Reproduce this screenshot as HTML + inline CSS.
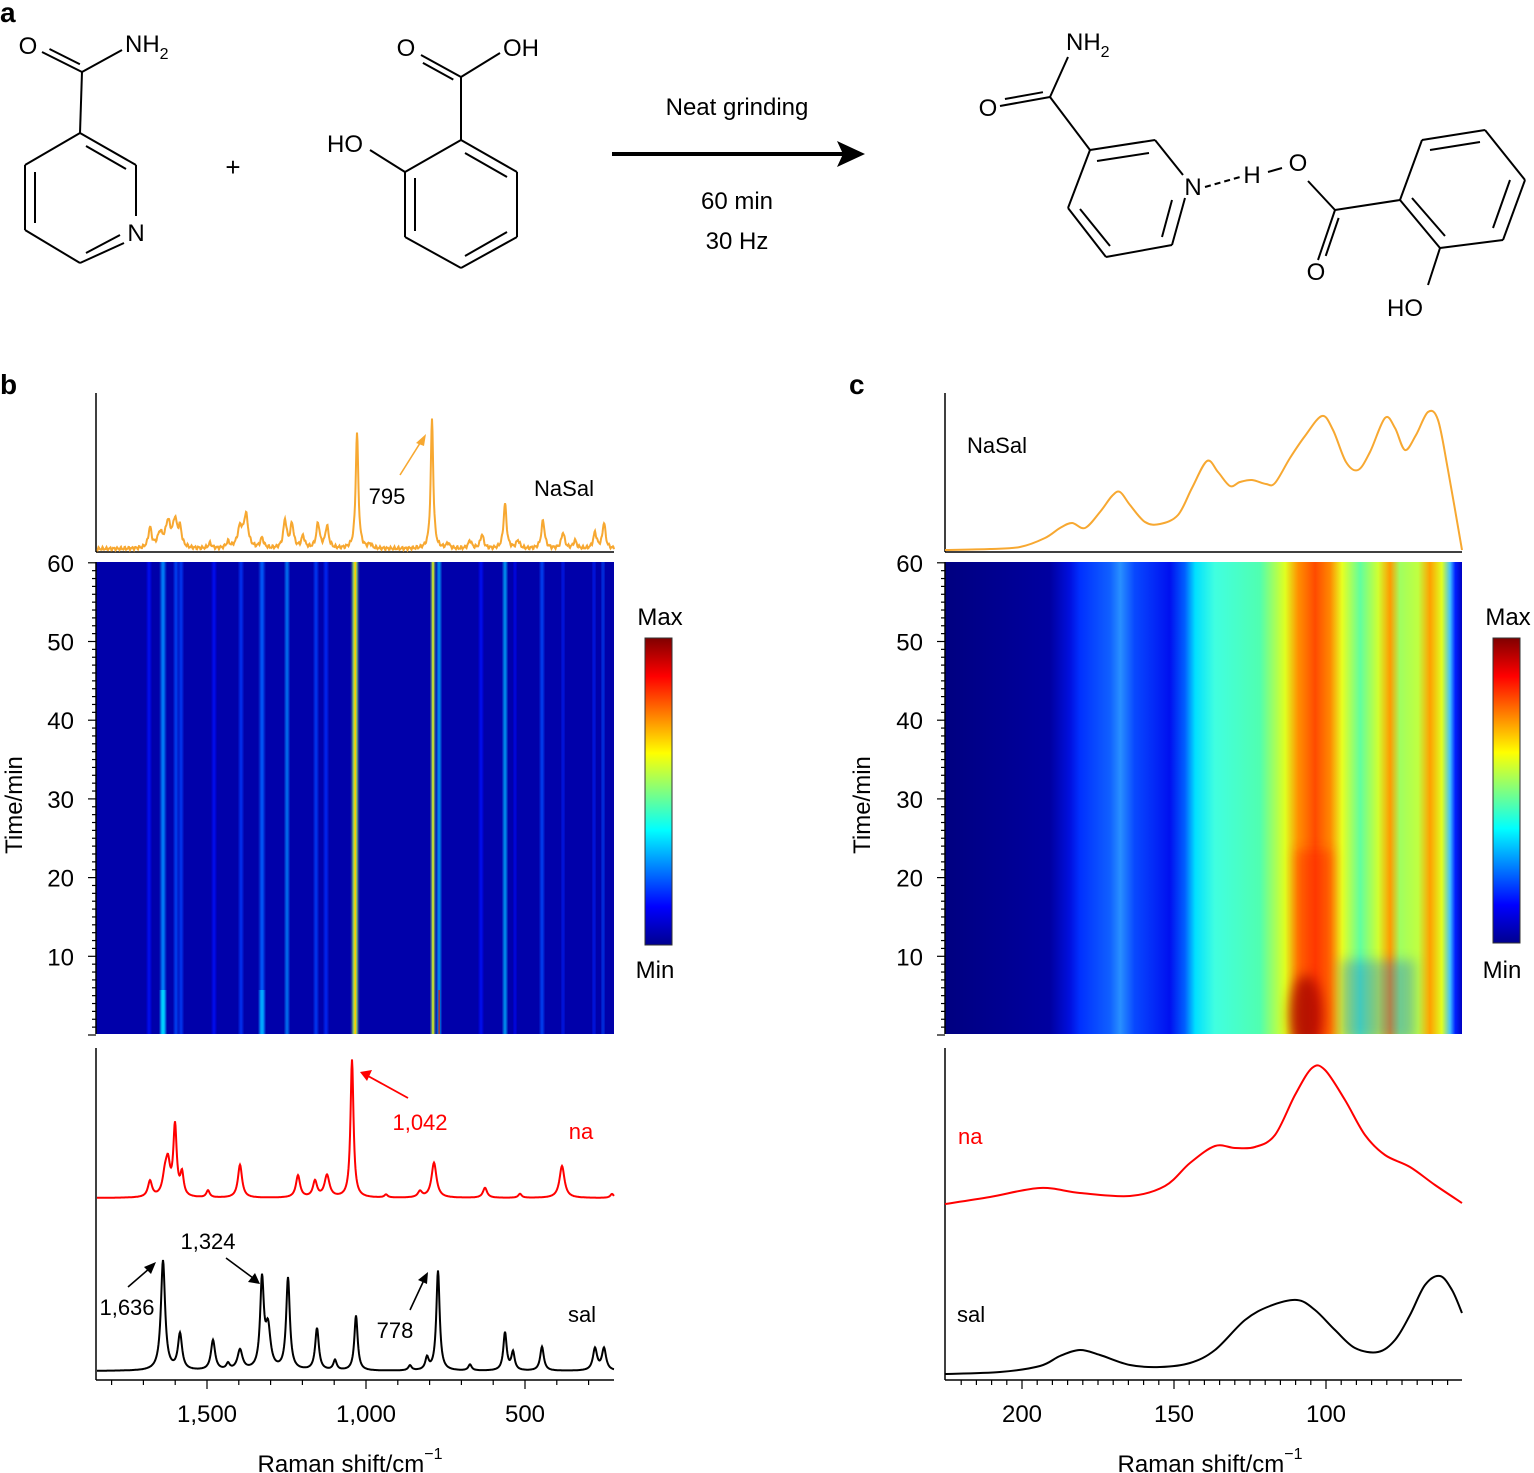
<!DOCTYPE html>
<html><head><meta charset="utf-8">
<style>
html,body{margin:0;padding:0;background:#fff;}
svg{display:block;font-family:"Liberation Sans",Arial,sans-serif;}
</style></head>
<body>
<svg id="s" width="1534" height="1473" viewBox="0 0 1534 1473" xmlns="http://www.w3.org/2000/svg">
<defs>
<linearGradient id="jetv" x1="0" y1="1" x2="0" y2="0">
<stop offset="0" stop-color="#00008f"/><stop offset="0.125" stop-color="#0000ff"/>
<stop offset="0.375" stop-color="#00ffff"/><stop offset="0.625" stop-color="#ffff00"/>
<stop offset="0.875" stop-color="#ff0000"/><stop offset="1" stop-color="#800000"/>
</linearGradient>
<linearGradient id="hc" x1="945" y1="0" x2="1462" y2="0" gradientUnits="userSpaceOnUse">
<stop offset="0" stop-color="#000080"/>
<stop offset="0.203" stop-color="#0000a0"/>
<stop offset="0.242" stop-color="#0010e0"/>
<stop offset="0.261" stop-color="#0030ff"/>
<stop offset="0.319" stop-color="#1060ff"/>
<stop offset="0.339" stop-color="#2890ff"/>
<stop offset="0.367" stop-color="#0848ff"/>
<stop offset="0.435" stop-color="#0010f0"/>
<stop offset="0.464" stop-color="#0060ff"/>
<stop offset="0.484" stop-color="#00e0ff"/>
<stop offset="0.522" stop-color="#40ffe0"/>
<stop offset="0.609" stop-color="#50ffb0"/>
<stop offset="0.658" stop-color="#e0ff20"/>
<stop offset="0.683" stop-color="#ff9000"/>
<stop offset="0.716" stop-color="#ff4a00"/>
<stop offset="0.745" stop-color="#ff8800"/>
<stop offset="0.768" stop-color="#e8ff20"/>
<stop offset="0.803" stop-color="#60ffa0"/>
<stop offset="0.838" stop-color="#d0ff30"/>
<stop offset="0.861" stop-color="#ff9a00"/>
<stop offset="0.88" stop-color="#a0ff60"/>
<stop offset="0.915" stop-color="#c0ff40"/>
<stop offset="0.938" stop-color="#ffa000"/>
<stop offset="0.961" stop-color="#e0ff20"/>
<stop offset="0.977" stop-color="#40c0ff"/>
<stop offset="0.987" stop-color="#0020ff"/>
<stop offset="1" stop-color="#0000c0"/>
</linearGradient>
<clipPath id="cc"><rect x="945" y="562" width="517" height="472"/></clipPath>
<filter id="bl" x="-50%" y="0" width="200%" height="100%"><feGaussianBlur stdDeviation="1.2 0"/></filter>
<filter id="bl2" x="-50%" y="-50%" width="200%" height="200%"><feGaussianBlur stdDeviation="6"/></filter>
</defs>
<g id="root" fill="none" stroke="none"></g>
</svg>
<script>
var R=document.getElementById('root');var NS='http://www.w3.org/2000/svg';
function el(t,a,txt,par){var e=document.createElementNS(NS,t);for(var k in a)e.setAttribute(k,a[k]);if(txt!=null)e.textContent=txt;(par||R).appendChild(e);return e;}
function line(x1,y1,x2,y2,c,w,d){var a={x1:x1,y1:y1,x2:x2,y2:y2,stroke:c||'#000','stroke-width':w||2};if(d)a['stroke-dasharray']=d;return el('line',a);}
function text(x,y,s,sz,c,anc,extra){var a={x:x,y:y,'font-size':sz||24,fill:c||'#000','text-anchor':anc||'middle'};for(var k in extra)a[k]=extra[k];return el('text',a,s);}
function sub(x,y,main,s,sz,anc,dy,ssz){var t=text(x,y,main,sz,'#000',anc||'start');el('tspan',{dy:dy,'font-size':ssz||16},s,t);return t;}
function dbl(x1,y1,x2,y2,off,side){line(x1,y1,x2,y2);var dx=x2-x1,dy=y2-y1,L=Math.hypot(dx,dy),nx=-dy/L*off*side,ny=dx/L*off*side;var s=0.12;line(x1+dx*s+nx,y1+dy*s+ny,x2-dx*s+nx,y2-dy*s+ny);}
text(0,22,'a',28,'#000','start',{'font-weight':'bold'});
text(0,394,'b',28,'#000','start',{'font-weight':'bold'});
text(849,394,'c',28,'#000','start',{'font-weight':'bold'});
line(80,133,136,165);line(136,165,136,216);line(124,243,80,263);line(80,263,25,230);line(25,230,25,165);line(25,165,80,133);
line(86,146,126,169);line(35,172,35,223);line(120,235,86,253);
text(136,241,'N',24);
line(82,72,80,133);dbl(82,72,42,52,6,1);line(82,72,122,50);
text(28,54,'O',24);sub(125,52,'NH','2',24,'start',7);
text(233,176,'+',26);
line(461,140,517,172);line(517,172,517,237);line(517,237,461,268);line(461,268,405,237);line(405,237,405,172);line(405,172,461,140);
line(465,153,507,177);line(507,232,465,256);line(415,178,415,231);
line(461,77,461,140);dbl(461,77,421,55,6,-1);line(461,77,500,53);
text(406,56,'O',24);text(503,56,'OH',24,'#000','start');
line(370,150,405,172);text(345,152,'HO',24);
line(612,154,845,154,'#000',4);el('polygon',{points:'865,154 837,141 843,154 837,167',fill:'#000'});
text(737,115,'Neat grinding',24);text(737,209,'60 min',24);text(737,249,'30 Hz',24);
line(1090,150,1155,140);line(1155,140,1183,175);line(1185,198,1172,245);line(1172,245,1106,257);line(1106,257,1068,208);line(1068,208,1090,150);
line(1097,161,1149,153);line(1172,200,1162,237);line(1080,209,1110,246);
line(1050,97,1090,150);dbl(1050,97,1000,106,6,1);line(1050,97,1068,57);
text(988,116,'O',24);sub(1066,50,'NH','2',24,'start',7);
text(1193,195,'N',24);line(1205,187,1240,177,'#000',2,'6,4');text(1252,183,'H',24);line(1268,172,1282,168);
text(1298,171,'O',24);line(1308,181,1335,210);dbl(1335,210,1318,260,6,-1);text(1316,280,'O',24);
line(1335,210,1400,200);
line(1400,200,1422,140);line(1422,140,1485,130);line(1485,130,1525,180);line(1525,180,1503,240);line(1503,240,1440,248);line(1440,248,1400,200);
line(1430,150,1480,142);line(1510,180,1493,228);line(1445,236,1412,198);
line(1440,248,1428,285);text(1405,316,'HO',24);
function jet(v){v=Math.max(0,Math.min(1,v));function c(x){return Math.round(255*Math.max(0,Math.min(1,x)));}
var r=c(Math.min(4*v-1.5,-4*v+4.5)),g=c(Math.min(4*v-0.5,-4*v+3.5)),b=c(Math.min(4*v+0.5,-4*v+2.5));return 'rgb('+r+','+g+','+b+')';}
el('rect',{x:96,y:562,width:518,height:472,fill:'#0000aa'});
var cols=[[149,3,0.14],[163,4,0.26],[176,3,0.2],[181,3,0.19],[214,3,0.14],[241,3,0.18],[262,4,0.22],[287,3,0.26],[316,3,0.19],[326,3,0.17],[355,5,0.55],[433,3,0.55],[439,3,0.3],[481,3,0.14],[505,3,0.3],[515,2,0.14],[542,3,0.2],[563,2,0.16],[594,2,0.16],[603,2,0.2]];
cols.forEach(function(c){el('rect',{x:c[0]-c[1]/2,y:562,width:c[1],height:472,fill:jet(c[2]),filter:'url(#bl)'});});
el('rect',{x:354.5,y:562,width:1.5,height:472,fill:jet(0.68)});
el('rect',{x:432.5,y:562,width:1,height:472,fill:jet(0.62)});
el('rect',{x:438.5,y:990,width:1.2,height:44,fill:'#e02000'});
el('rect',{x:161,y:990,width:4,height:44,fill:jet(0.34),filter:'url(#bl)'});
el('rect',{x:260,y:990,width:4,height:44,fill:jet(0.3),filter:'url(#bl)'});
var g=el('g',{'clip-path':'url(#cc)'});
el('rect',{x:945,y:562,width:517,height:472,fill:'url(#hc)'},null,g);
el('rect',{x:1296,y:850,width:36,height:190,fill:'#ff2000',opacity:0.45,filter:'url(#bl2)'},null,g);
el('ellipse',{cx:1306,cy:1015,rx:16,ry:40,fill:'#a00000',opacity:0.75,filter:'url(#bl2)'},null,g);
el('rect',{x:1340,y:960,width:75,height:80,fill:'#0050ff',opacity:0.3,filter:'url(#bl2)'},null,g);
el('rect',{x:645,y:638,width:27,height:307,fill:'url(#jetv)',stroke:'#333','stroke-width':1});
el('rect',{x:1493,y:638,width:27,height:305,fill:'url(#jetv)',stroke:'#333','stroke-width':1});
text(660,625,'Max',24);text(655,978,'Min',24);text(1508,625,'Max',24);text(1502,978,'Min',24);
function yaxis(x){line(x,562,x,1034,'#000',1.5);var lab=[60,50,40,30,20,10];
for(var t=0;t<=60;t++){var y=1035-t*7.87;var big=t%10==0;line(x-(big?8:4),y,x,y,'#000',1.2);}
lab.forEach(function(t){text(x-22,1035-t*7.87+9,''+t,24,'#000','end');});}
yaxis(96);yaxis(945);
[14,862].forEach(function(px){text(px,797,'Time/min',24,'#000','middle',{transform:'rotate(-90 '+(px+8)+' 797)'});});
line(96,393,96,552,'#000',1.5);line(96,552,614,552,'#000',1.5);
line(945,393,945,552,'#000',1.5);line(945,552,1462,552,'#000',1.5);
line(96,1048,96,1380,'#000',1.5);line(96,1380,614,1380,'#000',1.5);
line(945,1048,945,1380,'#000',1.5);line(945,1380,1462,1380,'#000',1.5);
function bx(w){return 207+(1500-w)*0.318;}
for(var w=1800;w>=250;w-=100){var X=bx(w);if(X<96||X>614)continue;var big=w%500==0;line(X,1380,X,1380+(big?9:5),'#000',1.2);}
text(bx(1500),1422,'1,500',24);text(bx(1000),1422,'1,000',24);text(bx(500),1422,'500',24);
function cx(w){return 1022+(200-w)*3.04;}
for(var w=220;w>=55;w-=5){var X=cx(w);if(X<945||X>1462)continue;var big=w%50==0;line(X,1380,X,1380+(big?9:5),'#000',1.2);}
text(cx(200),1422,'200',24);text(cx(150),1422,'150',24);text(cx(100),1422,'100',24);
sub(350,1472,'Raman shift/cm','\u22121',24,'middle',-13);
sub(1210,1472,'Raman shift/cm','\u22121',24,'middle',-13);
function spec(base,peaks,x0,x1,c,w,noise){var d='';for(var x=x0;x<=x1;x+=0.5){var y=base;peaks.forEach(function(p){var g=p[2]||2.5;y-=p[1]/(1+Math.pow((x-p[0])/g,2));});
if(noise)y+=noise*(Math.sin(x*1.7)+Math.sin(x*3.1+1)*0.6);d+=(x==x0?'M':'L')+x.toFixed(1)+','+y.toFixed(1);}
el('path',{d:d,stroke:c,'stroke-width':w||2,fill:'none'});}
var OR='#f7a831';
spec(549,[[150,20,2],[160,14,3],[168,25,3],[175,26,2.5],[180,18,2],[210,5,2],[228,6,2],[240,20,3],[246,32,2.5],[262,10,2],[285,28,2],[292,24,2],[303,12,2],[318,25,2],[327,22,2],[357,116,1.6],[370,4,2],[432,130,1.5],[448,5,2],[470,8,2],[482,14,2],[505,45,1.8],[518,8,2],[543,28,2],[563,16,2],[575,8,2],[595,16,2],[604,26,1.8]],97,614,OR,2,1.2);
spec(1198,[[150,16,2.5],[165,20,3],[168,28,2.5],[175,70,2],[182,22,2],[208,7,2],[240,33,2.5],[298,22,2.5],[315,16,2.5],[327,22,3],[352,138,1.8],[386,3,2],[420,6,2.5],[434,35,3],[485,10,2.5],[520,4,2],[562,32,3],[612,4,2]],97,614,'#ff0000',2);
spec(1371,[[163,110,2.5],[180,36,2.5],[213,30,2.5],[228,6,2],[240,20,3],[262,88,2.2],[268,40,3],[288,92,2.2],[317,42,2.2],[335,10,2],[356,55,2],[410,5,2],[427,12,2],[438,100,2],[470,6,2],[505,38,2],[513,18,2],[542,24,2.2],[595,22,2.5],[604,22,2.5]],97,614,'#000',2);
text(387,504,'795',22);line(400,475,422,440,OR,1.6);el('polygon',{points:'426,434 416,443 424,446',fill:OR});
text(564,496,'NaSal',22);
text(581,1139,'na',22,'#ff0000');text(420,1130,'1,042',22,'#ff0000');
line(408,1098,368,1076,'#ff0000',1.8);el('polygon',{points:'360,1072 372,1070 367,1081',fill:'#ff0000'});
text(582,1322,'sal',22);
text(127,1315,'1,636',22);line(128,1287,150,1268,'#000',1.6);el('polygon',{points:'156,1262 144,1267 151,1274',fill:'#000'});
text(208,1249,'1,324',22);line(226,1258,253,1278,'#000',1.6);el('polygon',{points:'260,1284 248,1282 255,1273',fill:'#000'});
text(395,1338,'778',22);line(410,1310,424,1280,'#000',1.6);el('polygon',{points:'428,1272 418,1280 427,1284',fill:'#000'});
function smooth(pts,c,w){var d='M'+pts[0][0]+','+pts[0][1];for(var i=0;i<pts.length-1;i++){var p0=pts[i-1]||pts[i],p1=pts[i],p2=pts[i+1],p3=pts[i+2]||p2;
var c1=[p1[0]+(p2[0]-p0[0])/6,p1[1]+(p2[1]-p0[1])/6],c2=[p2[0]-(p3[0]-p1[0])/6,p2[1]-(p3[1]-p1[1])/6];
d+='C'+c1.join(',')+' '+c2.join(',')+' '+p2.join(',');}el('path',{d:d,stroke:c,'stroke-width':w||2,fill:'none'});}
smooth([[945,550],[990,549],[1020,547],[1045,538],[1060,528],[1072,523],[1085,528],[1100,512],[1112,496],[1120,492],[1130,505],[1145,522],[1160,524],[1178,515],[1192,488],[1207,461],[1218,472],[1230,486],[1240,482],[1252,480],[1266,484],[1275,483],[1290,458],[1305,436],[1322,416],[1333,430],[1346,462],[1358,470],[1370,452],[1385,418],[1395,428],[1405,450],[1416,435],[1428,412],[1438,420],[1448,470],[1462,550]],OR,2);
smooth([[945,1204],[990,1197],[1040,1188],[1080,1193],[1130,1196],[1165,1186],[1190,1163],[1215,1146],[1235,1148],[1255,1147],[1275,1135],[1295,1095],[1312,1068],[1325,1070],[1345,1100],[1365,1135],[1385,1155],[1410,1167],[1435,1185],[1462,1203]],'#ff0000',2);
smooth([[945,1374],[1000,1372],[1040,1366],[1060,1356],[1080,1350],[1100,1355],[1130,1365],[1160,1367],[1190,1363],[1215,1350],[1245,1320],[1270,1306],[1297,1300],[1315,1310],[1335,1330],[1355,1348],[1378,1352],[1395,1340],[1410,1315],[1425,1285],[1440,1276],[1452,1290],[1462,1313]],'#000',2);
text(997,453,'NaSal',22);text(958,1144,'na',22,'#ff0000','start');text(957,1322,'sal',22,'#000','start');
</script>
</body></html>
